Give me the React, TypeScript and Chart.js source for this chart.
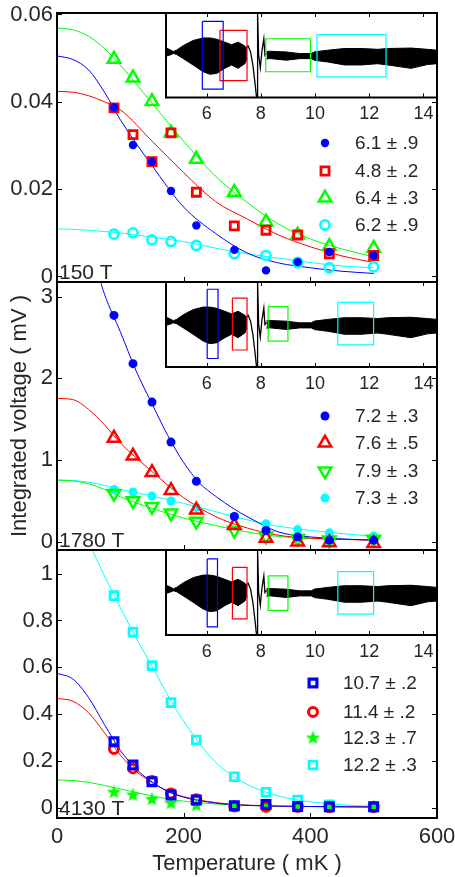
import React, { useEffect, useRef } from 'react';
import { Chart, registerables } from 'chart.js';

Chart.register(...registerables);

const W = 455;
const H = 877;
const FONT = "'Liberation Sans', Arial, Helvetica, sans-serif";
const INK = '#262626';
const BLUE = '#0000ff';
const RED = '#ff0000';
const GREEN = '#00ff00';
const CYAN = '#00ffff';

Chart.defaults.font.family = FONT;

// ---------------- data ----------------
const tempsMK = [90, 120, 150, 180, 220, 280, 330, 380, 430, 500];
const tempTicks = [0, 200, 400, 600];
const tempTickLabels = ['0', '200', '400', '600'];
const fitT = [0, 25, 50, 75, 100, 150, 200, 250, 300, 350, 400, 450, 500];

// Panel 1 : 150 T
const p1Label = '150 T';
const p1YTicks = [0, 0.02, 0.04, 0.06];
const p1YTickLabels = ['0', '0.02', '0.04', '0.06'];
const p1Blue = [0.0387, 0.0301, 0.0263, 0.0196, 0.0117, 0.0061, 0.0014, 0.0033, 0.0056, 0.0048];
const p1Red = [0.0386, 0.0325, 0.0263, 0.0329, 0.0193, 0.0116, 0.0106, 0.0095, 0.0052, 0.0048];
const p1Green = [0.0498, 0.0455, 0.0401, 0.0329, 0.0269, 0.0193, 0.0125, 0.0095, 0.0069, 0.0065];
const p1Cyan = [0.0097, 0.0100, 0.0084, 0.0080, 0.0071, 0.0052, 0.0048, 0.0032, 0.0020, 0.0022];
const p1BlueFit = [0.0505, 0.0497, 0.0473, 0.0422, 0.0359, 0.0254, 0.0159, 0.0099, 0.0054, 0.0031, 0.0020, 0.0012, 0.0007];
const p1RedFit = [0.0424, 0.0422, 0.0414, 0.0400, 0.0382, 0.0310, 0.0238, 0.0172, 0.0132, 0.0095, 0.0068, 0.0047, 0.0032];
const p1GreenFit = [0.0569, 0.0565, 0.0550, 0.0522, 0.0484, 0.0397, 0.0310, 0.0230, 0.0170, 0.0120, 0.0086, 0.0063, 0.0045];
const p1CyanFit = [0.0109, 0.0108, 0.0106, 0.0103, 0.0100, 0.0090, 0.0080, 0.0065, 0.0052, 0.0042, 0.0032, 0.0024, 0.0020];
const p1Legend = ['6.1 \u00b1 .9', '4.8 \u00b1 .2', '6.4 \u00b1 .3', '6.2 \u00b1 .9'];

// Panel 2 : 1780 T
const p2Label = '1780 T';
const p2YTicks = [0, 1, 2, 3];
const p2YTickLabels = ['0', '1', '2', '3'];
const p2Blue = [2.77, 2.18, 1.71, 1.22, 0.74, 0.31, 0.14, 0.06, 0.02, 0.02];
const p2Red = [1.27, 1.05, 0.85, 0.63, 0.39, 0.20, 0.045, 0.0, -0.01, -0.02];
const p2Green = [0.59, 0.50, 0.43, 0.35, 0.25, 0.14, 0.07, 0.04, 0.02, 0.03];
const p2Cyan = [0.64, 0.61, 0.56, 0.50, 0.42, 0.31, 0.22, 0.15, 0.11, 0.07];
const p2BlueFitT = [55, 75, 100, 125, 150, 175, 200, 225, 250, 280, 300, 350, 400, 450, 500];
const p2BlueFit = [3.55, 3.03, 2.57, 2.09, 1.69, 1.30, 0.97, 0.72, 0.56, 0.40, 0.31, 0.12, 0.06, 0.035, 0.02];
const p2RedFit = [1.755, 1.74, 1.62, 1.43, 1.21, 0.86, 0.54, 0.31, 0.17, 0.08, 0.045, 0.03, 0.02];
const p2GreenFit = [0.755, 0.745, 0.71, 0.64, 0.55, 0.41, 0.29, 0.20, 0.12, 0.065, 0.04, 0.03, 0.025];
const p2CyanFit = [0.755, 0.75, 0.73, 0.69, 0.64, 0.56, 0.47, 0.37, 0.27, 0.19, 0.14, 0.10, 0.07];
const p2Legend = ['7.2 \u00b1 .3', '7.6 \u00b1 .5', '7.9 \u00b1 .3', '7.3 \u00b1 .3'];

// Panel 3 : 4130 T
const p3Label = '4130 T';
const p3YTicks = [0, 0.2, 0.4, 0.6, 0.8, 1];
const p3YTickLabels = ['0', '0.2', '0.4', '0.6', '0.8', '1'];
const p3Blue = [0.282, 0.182, 0.111, 0.054, 0.033, 0.008, 0.014, 0.005, 0.004, 0.004];
const p3Red = [0.251, 0.168, 0.114, 0.061, 0.036, 0.005, 0.004, 0.003, 0.002, 0.002];
const p3Green = [0.066, 0.054, 0.036, 0.019, 0.010, 0.005, 0.004, 0.004, 0.003, 0.003];
const p3Cyan = [0.906, 0.75, 0.607, 0.449, 0.289, 0.132, 0.066, 0.033, 0.012, 0.004];
const p3FitT = [0, 25, 50, 75, 100, 125, 150, 175, 200, 250, 300, 400, 500];
const p3BlueFit = [0.574, 0.55, 0.47, 0.355, 0.245, 0.165, 0.11, 0.07, 0.045, 0.02, 0.01, 0.005, 0.003];
const p3RedFit = [0.467, 0.455, 0.405, 0.32, 0.225, 0.155, 0.108, 0.07, 0.047, 0.022, 0.011, 0.005, 0.003];
const p3GreenFit = [0.118, 0.116, 0.108, 0.095, 0.08, 0.065, 0.05, 0.038, 0.028, 0.016, 0.01, 0.005, 0.004];
const p3CyanFitT = [40, 50, 75, 100, 125, 150, 175, 200, 225, 250, 300, 350, 400, 450, 500];
const p3CyanFit = [1.22, 1.14, 0.99, 0.855, 0.725, 0.605, 0.48, 0.37, 0.275, 0.195, 0.10, 0.05, 0.025, 0.012, 0.006];
const p3Legend = ['10.7 \u00b1 .2', '11.4 \u00b1 .2', '12.3 \u00b1 .7', '12.2 \u00b1 .3'];

// Inset waveform (time axis, arbitrary amplitude)
const insetTicks = [6, 8, 10, 12, 14];
const insetTickLabels = ['6', '8', '10', '12', '14'];
const waveX1 = [4.5, 4.62, 4.77, 4.89, 5.14, 5.5, 5.87, 6.12, 6.37, 6.67, 6.92, 7.16, 7.41, 7.49];
const waveUp1 = [0.17, 0.14, 0.09, 0.12, 0.23, 0.35, 0.41, 0.41, 0.38, 0.31, 0.25, 0.31, 0.22, 0.12];
const waveLo1 = [-0.02, 0.0, 0.04, 0.02, -0.08, -0.23, -0.39, -0.45, -0.43, -0.31, -0.23, -0.31, -0.2, -0.08];
const transX = [7.44, 7.53, 7.62, 7.71, 7.80, 7.84, 7.86, 7.87, 7.89, 7.92, 7.98, 8.04, 8.11, 8.15, 8.21];
const transY = [0.15, 0.22, 0.08, -0.25, -0.75, -1.0, -1.0, 1.0, 1.0, 0.0, -0.3, 0.1, 0.39, 0.0, 0.05];
const waveX2 = [8.21, 8.33, 8.94, 9.43, 9.86, 9.98, 10.47, 11.09, 11.70, 12.31, 12.68, 13.54, 14.15, 14.5];
const waveUp2 = [0.09, 0.094, 0.078, 0.04, 0.04, 0.08, 0.12, 0.16, 0.16, 0.14, 0.16, 0.17, 0.14, 0.12];
const waveLo2 = [-0.09, -0.078, -0.117, -0.08, -0.08, -0.12, -0.16, -0.23, -0.23, -0.2, -0.23, -0.31, -0.22, -0.2];

// Analysis windows drawn in each inset (order: blue, red, green, cyan)
const p1WinStart = [5.84, 6.49, 8.18, 10.07];
const p1WinEnd = [6.61, 7.49, 9.83, 12.62];
const p1WinTop = [0.80, 0.59, 0.39, 0.49];
const p1WinBottom = [-0.80, -0.60, -0.39, -0.51];
const p2WinStart = [6.02, 6.95, 8.27, 10.84];
const p2WinEnd = [6.42, 7.49, 9.00, 12.16];
const p2WinTop = [0.83, 0.62, 0.42, 0.52];
const p2WinBottom = [-0.80, -0.60, -0.39, -0.48];
const p3WinStart = [6.02, 6.95, 8.27, 10.84];
const p3WinEnd = [6.40, 7.49, 9.00, 12.16];
const p3WinTop = [0.79, 0.59, 0.39, 0.49];
const p3WinBottom = [-0.81, -0.62, -0.42, -0.51];

// ---------------- helpers ----------------
type Marker = {
  style: string | HTMLCanvasElement;
  radius: number;
  color: string;
  filled: boolean;
  lw: number;
  rotation?: number;
};

function makeStar(color: string, R: number): HTMLCanvasElement {
  const size = Math.ceil(R * 2 + 2);
  const c = document.createElement('canvas');
  c.width = size;
  c.height = size;
  const g = c.getContext('2d')!;
  g.fillStyle = color;
  g.beginPath();
  for (let i = 0; i < 10; i++) {
    const r = i % 2 === 0 ? R : R * 0.42;
    const a = -Math.PI / 2 + (i * Math.PI) / 5;
    const px = size / 2 + r * Math.cos(a);
    const py = size / 2 + r * Math.sin(a);
    if (i === 0) g.moveTo(px, py);
    else g.lineTo(px, py);
  }
  g.closePath();
  g.fill();
  return c;
}

function drawMarker(ctx: CanvasRenderingContext2D, m: Marker, x: number, y: number) {
  ctx.save();
  if (typeof m.style !== 'string') {
    ctx.drawImage(m.style, x - m.style.width / 2, y - m.style.height / 2);
    ctx.restore();
    return;
  }
  ctx.lineWidth = m.lw;
  ctx.strokeStyle = m.color;
  ctx.fillStyle = m.color;
  ctx.beginPath();
  const r = m.radius;
  if (m.style === 'circle') {
    ctx.arc(x, y, r, 0, Math.PI * 2);
  } else if (m.style === 'rect') {
    const s = r * Math.SQRT1_2;
    ctx.rect(x - s, y - s, 2 * s, 2 * s);
  } else if (m.style === 'triangle') {
    let a = ((m.rotation || 0) * Math.PI) / 180;
    ctx.moveTo(x + Math.sin(a) * r, y - Math.cos(a) * r);
    a += (2 * Math.PI) / 3;
    ctx.lineTo(x + Math.sin(a) * r, y - Math.cos(a) * r);
    a += (2 * Math.PI) / 3;
    ctx.lineTo(x + Math.sin(a) * r, y - Math.cos(a) * r);
    ctx.closePath();
  }
  if (m.filled) ctx.fill();
  if (m.lw > 0) ctx.stroke();
  ctx.restore();
}

function pts(xs: number[], ys: number[]) {
  return xs.map((x, i) => ({ x, y: ys[i] }));
}

function markerDataset(values: number[], m: Marker) {
  return {
    data: pts(tempsMK, values),
    showLine: false,
    pointStyle: m.style,
    pointRadius: m.radius,
    pointHoverRadius: m.radius,
    pointBorderWidth: m.lw,
    pointBorderColor: m.color,
    pointBackgroundColor: m.filled ? m.color : 'rgba(0,0,0,0)',
    pointRotation: m.rotation || 0,
  };
}

function fitDataset(xs: number[], ys: number[], color: string) {
  return {
    data: pts(xs, ys),
    borderColor: color,
    borderWidth: 1,
    pointRadius: 0,
    pointHoverRadius: 0,
    cubicInterpolationMode: 'monotone',
    fill: false,
  };
}

type Legend = { items: { text: string; m: Marker }[]; markerX: number; textX: number; rows: number[] };
type DecorCfg = {
  bg?: boolean;
  xTicks: number[];
  yTicks: number[];
  tickLen: number;
  frame: number;
  label?: string;
  legend?: Legend;
};

function makeDecor(cfg: DecorCfg) {
  return {
    id: 'decor',
    beforeDatasetsDraw(chart: any) {
      if (!cfg.bg) return;
      const { ctx, chartArea: a } = chart;
      ctx.save();
      ctx.fillStyle = '#ffffff';
      ctx.fillRect(a.left, a.top, a.right - a.left, a.bottom - a.top);
      ctx.restore();
    },
    afterDatasetsDraw(chart: any) {
      const { ctx, chartArea: a, scales } = chart;
      const L = cfg.tickLen;
      ctx.save();
      ctx.strokeStyle = '#000000';
      ctx.lineWidth = 1;
      ctx.beginPath();
      for (const v of cfg.xTicks) {
        const px = Math.round(scales.x.getPixelForValue(v)) + 0.5;
        ctx.moveTo(px, a.bottom);
        ctx.lineTo(px, a.bottom - L);
        ctx.moveTo(px, a.top);
        ctx.lineTo(px, a.top + L);
      }
      for (const v of cfg.yTicks) {
        const py = Math.round(scales.y.getPixelForValue(v)) + 0.5;
        ctx.moveTo(a.left, py);
        ctx.lineTo(a.left + L, py);
        ctx.moveTo(a.right, py);
        ctx.lineTo(a.right - L, py);
      }
      ctx.stroke();
      ctx.lineWidth = cfg.frame;
      ctx.strokeRect(a.left, a.top, a.right - a.left, a.bottom - a.top);
      if (cfg.label) {
        ctx.fillStyle = INK;
        ctx.font = `21px ${FONT}`;
        ctx.textAlign = 'left';
        ctx.textBaseline = 'alphabetic';
        ctx.fillText(cfg.label, a.left + 2, a.bottom - 3);
      }
      if (cfg.legend) {
        const lg = cfg.legend;
        ctx.font = `19px ${FONT}`;
        ctx.fillStyle = INK;
        ctx.textAlign = 'left';
        ctx.textBaseline = 'middle';
        lg.items.forEach((it, i) => {
          drawMarker(ctx, it.m, lg.markerX, lg.rows[i]);
          ctx.fillStyle = INK;
          ctx.fillText(it.text, lg.textX, lg.rows[i] + 1);
        });
      }
      ctx.restore();
    },
  };
}

function tickLabel(ticks: number[], labels: string[]) {
  return (v: any) => {
    const i = ticks.findIndex((t) => Math.abs(t - Number(v)) < 1e-9);
    return i >= 0 ? labels[i] : '';
  };
}

type PanelSpec = {
  top: number;
  bottom: number;
  yMin: number;
  yMax: number;
  yTicks: number[];
  yTickLabels: string[];
  showX: boolean;
  yTitle: boolean;
  label: string;
  datasets: any[];
  legend: Legend;
};

const LEFT = 57;
const RIGHT = 437;

function mainConfig(p: PanelSpec): any {
  return {
    type: 'line',
    data: { datasets: p.datasets },
    options: {
      responsive: false,
      animation: false,
      devicePixelRatio: 1,
      events: [],
      layout: { padding: { left: 0, right: W - RIGHT, top: p.top, bottom: p.showX ? 0 : H - p.bottom } },
      scales: {
        x: {
          type: 'linear',
          min: 0,
          max: 600,
          display: p.showX,
          afterBuildTicks: (s: any) => {
            s.ticks = tempTicks.map((v) => ({ value: v }));
          },
          afterFit: (s: any) => {
            if (p.showX) s.height = H - p.bottom;
            s.paddingLeft = 0;
            s.paddingRight = 0;
          },
          grid: { display: false, drawTicks: false },
          border: { display: false },
          ticks: {
            autoSkip: false,
            maxRotation: 0,
            padding: 6,
            color: INK,
            font: { family: FONT, size: 22 },
            callback: tickLabel(tempTicks, tempTickLabels),
          },
          title: {
            display: p.showX,
            text: 'Temperature ( mK )',
            color: INK,
            font: { family: FONT, size: 22 },
            padding: { top: 0, bottom: 0 },
          },
        },
        y: {
          type: 'linear',
          min: p.yMin,
          max: p.yMax,
          afterBuildTicks: (s: any) => {
            s.ticks = p.yTicks.map((v) => ({ value: v }));
          },
          afterFit: (s: any) => {
            s.width = LEFT;
            s.paddingTop = 0;
            s.paddingBottom = 0;
          },
          grid: { display: false, drawTicks: false },
          border: { display: false },
          ticks: {
            autoSkip: false,
            padding: 4,
            color: INK,
            font: { family: FONT, size: 22 },
            callback: tickLabel(p.yTicks, p.yTickLabels),
          },
          title: {
            display: p.yTitle,
            text: 'Integrated voltage ( mV )',
            color: INK,
            font: { family: FONT, size: 22 },
            padding: { top: 7, bottom: 0 },
          },
        },
      },
      plugins: { legend: { display: false }, tooltip: { enabled: false } },
    },
    plugins: [
      makeDecor({
        xTicks: tempTicks,
        yTicks: p.yTicks,
        tickLen: 5,
        frame: 2,
        label: p.label,
        legend: p.legend,
      }),
    ],
  };
}

const WIN_COLORS = [BLUE, RED, GREEN, CYAN];

function insetConfig(top: number, bottom: number, ws: number[], we: number[], wt: number[], wb: number[]): any {
  const rects = ws.map((x0, i) => ({
    data: [
      { x: x0, y: wt[i] },
      { x: we[i], y: wt[i] },
      { x: we[i], y: wb[i] },
      { x: x0, y: wb[i] },
      { x: x0, y: wt[i] },
    ],
    borderColor: WIN_COLORS[i],
    borderWidth: 1.2,
    pointRadius: 0,
    tension: 0,
    fill: false,
  }));
  const black = { borderColor: '#000', backgroundColor: '#000', pointRadius: 0, tension: 0 };
  return {
    type: 'line',
    data: {
      datasets: [
        ...rects,
        { ...black, data: pts(transX, transY), borderWidth: 1.3, fill: false },
        { ...black, data: pts(waveX1, waveUp1), borderWidth: 1, fill: '+1' },
        { ...black, data: pts(waveX1, waveLo1), borderWidth: 1, fill: false },
        { ...black, data: pts(waveX2, waveUp2), borderWidth: 1, fill: '+1' },
        { ...black, data: pts(waveX2, waveLo2), borderWidth: 1, fill: false },
      ],
    },
    options: {
      responsive: false,
      animation: false,
      devicePixelRatio: 1,
      events: [],
      layout: { padding: { left: 166, right: W - RIGHT, top, bottom: 0 } },
      scales: {
        x: {
          type: 'linear',
          min: 4.5,
          max: 14.5,
          afterBuildTicks: (s: any) => {
            s.ticks = insetTicks.map((v) => ({ value: v }));
          },
          afterFit: (s: any) => {
            s.height = H - bottom;
            s.paddingLeft = 0;
            s.paddingRight = 0;
          },
          grid: { display: false, drawTicks: false },
          border: { display: false },
          ticks: {
            autoSkip: false,
            maxRotation: 0,
            padding: 6,
            color: INK,
            font: { family: FONT, size: 18 },
            callback: tickLabel(insetTicks, insetTickLabels),
          },
        },
        y: { type: 'linear', min: -1, max: 1, display: false },
      },
      plugins: { legend: { display: false }, tooltip: { enabled: false } },
    },
    plugins: [makeDecor({ bg: true, xTicks: insetTicks, yTicks: [], tickLen: 4, frame: 2 })],
  };
}

export default function App() {
  const refs = [
    useRef<HTMLCanvasElement>(null),
    useRef<HTMLCanvasElement>(null),
    useRef<HTMLCanvasElement>(null),
    useRef<HTMLCanvasElement>(null),
    useRef<HTMLCanvasElement>(null),
    useRef<HTMLCanvasElement>(null),
  ];

  useEffect(() => {
    const star = makeStar(GREEN, 7.5);
    const m1: Marker[] = [
      { style: 'circle', radius: 4.2, color: BLUE, filled: true, lw: 0 },
      { style: 'rect', radius: 5.7, color: RED, filled: false, lw: 2.8 },
      { style: 'triangle', radius: 7.2, color: GREEN, filled: false, lw: 2.5 },
      { style: 'circle', radius: 4.6, color: CYAN, filled: false, lw: 2.6 },
    ];
    const m2: Marker[] = [
      { style: 'circle', radius: 4.5, color: BLUE, filled: true, lw: 0 },
      { style: 'triangle', radius: 7.2, color: RED, filled: false, lw: 2.5 },
      { style: 'triangle', radius: 7.2, color: GREEN, filled: false, lw: 2.5, rotation: 180 },
      { style: 'circle', radius: 4.5, color: CYAN, filled: true, lw: 0 },
    ];
    const m3: Marker[] = [
      { style: 'rect', radius: 5.5, color: BLUE, filled: false, lw: 3.2 },
      { style: 'circle', radius: 4.5, color: RED, filled: false, lw: 3 },
      { style: star, radius: 7.5, color: GREEN, filled: true, lw: 0 },
      { style: 'rect', radius: 5.5, color: CYAN, filled: false, lw: 2.8 },
    ];

    const panels: PanelSpec[] = [
      {
        top: 13,
        bottom: 282,
        yMin: -0.00126,
        yMax: 0.06034,
        yTicks: p1YTicks,
        yTickLabels: p1YTickLabels,
        showX: false,
        yTitle: false,
        label: p1Label,
        datasets: [
          markerDataset(p1Blue, m1[0]),
          markerDataset(p1Red, m1[1]),
          markerDataset(p1Green, m1[2]),
          markerDataset(p1Cyan, m1[3]),
          fitDataset(fitT, p1BlueFit, BLUE),
          fitDataset(fitT, p1RedFit, RED),
          fitDataset(fitT, p1GreenFit, GREEN),
          fitDataset(fitT, p1CyanFit, CYAN),
        ],
        legend: {
          items: p1Legend.map((t, i) => ({ text: t, m: m1[i] })),
          markerX: 325,
          textX: 355,
          rows: [143, 171, 198, 225],
        },
      },
      {
        top: 282,
        bottom: 550,
        yMin: -0.10,
        yMax: 3.179,
        yTicks: p2YTicks,
        yTickLabels: p2YTickLabels,
        showX: false,
        yTitle: true,
        label: p2Label,
        datasets: [
          markerDataset(p2Blue, m2[0]),
          markerDataset(p2Red, m2[1]),
          markerDataset(p2Green, m2[2]),
          markerDataset(p2Cyan, m2[3]),
          fitDataset(p2BlueFitT, p2BlueFit, BLUE),
          fitDataset(fitT, p2RedFit, RED),
          fitDataset(fitT, p2GreenFit, GREEN),
          fitDataset(fitT, p2CyanFit, CYAN),
        ],
        legend: {
          items: p2Legend.map((t, i) => ({ text: t, m: m2[i] })),
          markerX: 325,
          textX: 355,
          rows: [416, 443, 471, 498],
        },
      },
      {
        top: 550,
        bottom: 818,
        yMin: -0.044,
        yMax: 1.101,
        yTicks: p3YTicks,
        yTickLabels: p3YTickLabels,
        showX: true,
        yTitle: false,
        label: p3Label,
        datasets: [
          markerDataset(p3Blue, m3[0]),
          markerDataset(p3Red, m3[1]),
          markerDataset(p3Green, m3[2]),
          markerDataset(p3Cyan, m3[3]),
          fitDataset(p3FitT, p3BlueFit, BLUE),
          fitDataset(p3FitT, p3RedFit, RED),
          fitDataset(p3FitT, p3GreenFit, GREEN),
          fitDataset(p3CyanFitT, p3CyanFit, CYAN),
        ],
        legend: {
          items: p3Legend.map((t, i) => ({ text: t, m: m3[i] })),
          markerX: 313,
          textX: 343,
          rows: [683, 712, 738, 765],
        },
      },
    ];

    const configs = [
      mainConfig(panels[0]),
      mainConfig(panels[1]),
      mainConfig(panels[2]),
      insetConfig(13, 97.5, p1WinStart, p1WinEnd, p1WinTop, p1WinBottom),
      insetConfig(282, 367, p2WinStart, p2WinEnd, p2WinTop, p2WinBottom),
      insetConfig(550, 635, p3WinStart, p3WinEnd, p3WinTop, p3WinBottom),
    ];

    const charts = configs.map((cfg, i) => new Chart(refs[i].current!, cfg));
    return () => charts.forEach((c) => c.destroy());
  }, []);

  return (
    <div style={{ position: 'fixed', left: 0, top: 0, width: W, height: H, background: '#ffffff' }}>
      {refs.map((r, i) => (
        <canvas
          key={i}
          ref={r}
          width={W}
          height={H}
          style={{ position: 'absolute', left: 0, top: 0, width: W, height: H }}
        />
      ))}
    </div>
  );
}
